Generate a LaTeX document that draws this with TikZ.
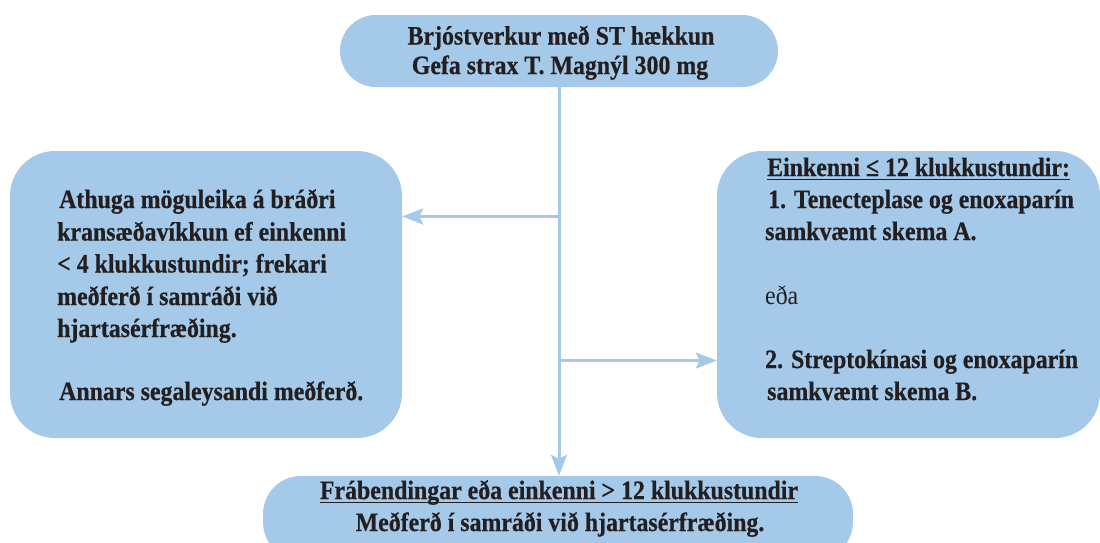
\documentclass[tikz,border=0pt]{standalone}
\usepackage{fontspec}
\setmainfont{Liberation Serif}[FakeStretch=0.9,BoldFeatures={FakeBold=0.6}]
\usetikzlibrary{arrows.meta}
\definecolor{boxblue}{RGB}{164,201,233}
\definecolor{ink}{RGB}{35,31,32}
\newcommand\ulx[1]{\setbox0\hbox{#1}\rlap{\rule[-4.2pt]{\wd0}{1.3pt}}\box0}
\tikzset{
  bx/.style={fill=boxblue,draw=none,inner sep=0pt,rectangle},
  txt/.style={anchor=base west,inner sep=0pt,text=ink,font=\fontsize{26.5}{30}\selectfont\bfseries},
  txtc/.style={txt,anchor=base},
  txtn/.style={txt,font=\fontsize{26.5}{30}\selectfont},
  conn/.style={draw=boxblue,line width=3pt,-{Stealth[length=21pt,width=16pt,inset=4pt]}},
}
\begin{document}
\begin{tikzpicture}[x=1pt,y=-1pt]
\useasboundingbox (0,0) rectangle (1100,542);
\clip (0,0) rectangle (1100,542);
% boxes
\node[bx,minimum width=438pt,minimum height=72pt,rounded corners=36pt] (top) at (559,51) {};
\node[bx,minimum width=392pt,minimum height=287pt,rounded corners=45pt] (left) at (206,294.5) {};
\node[bx,minimum width=383pt,minimum height=287pt,rounded corners=45pt] (right) at (908.5,294.5) {};
\node[bx,minimum width=590pt,minimum height=84pt,rounded corners=38pt] (bot) at (558,518) {};
% connectors
\coordinate (jl) at (top.south |- 0,216.5);
\coordinate (jr) at (top.south |- 0,360.5);
\draw[conn] (top.south) -- (top.south |- bot.north);
\draw[conn] (jl) -- (jl -| left.east);
\draw[conn] (jr) -- (jr -| right.west);
% top text
\node[txtc] (t1) at (561,44.5) {Brjóstverkur með ST hækkun};
\node[txtc] (t2) at (560,74) {Gefa strax T. Magnýl 300 mg};
% left text
\node[txt] (l1) at (59,208) {Athuga möguleika á bráðri};
\node[txt] (l2) at (57,240.5) {kransæðavíkkun ef einkenni};
\node[txt] (l3) at (57,272.5) {< 4 klukkustundir; frekari};
\node[txt] (l4) at (57,305) {meðferð í samráði við};
\node[txt] (l5) at (57,337) {hjartasérfræðing.};
\node[txt] (l6) at (59,400) {Annars segaleysandi meðferð.};
% right text
\node[txt] (r1) at (767,176) {\ulx{Einkenni ≤ 12 klukkustundir:}};
\node[txt] (r2) at (768,208) {1. Tenecteplase og enoxaparín};
\node[txt] (r3) at (765,240) {samkvæmt skema A.};
\node[txtn] (r4) at (765,304) {eða};
\node[txt] (r5) at (765,368) {2. Streptokínasi og enoxaparín};
\node[txt] (r6) at (767,400) {samkvæmt skema B.};
% bottom text
\node[txtc] (b1) at (559,499) {\ulx{Frábendingar eða einkenni > 12 klukkustundir}};
\node[txtc] (b2) at (560,531) {Meðferð í samráði við hjartasérfræðing.};
\end{tikzpicture}
\end{document}
